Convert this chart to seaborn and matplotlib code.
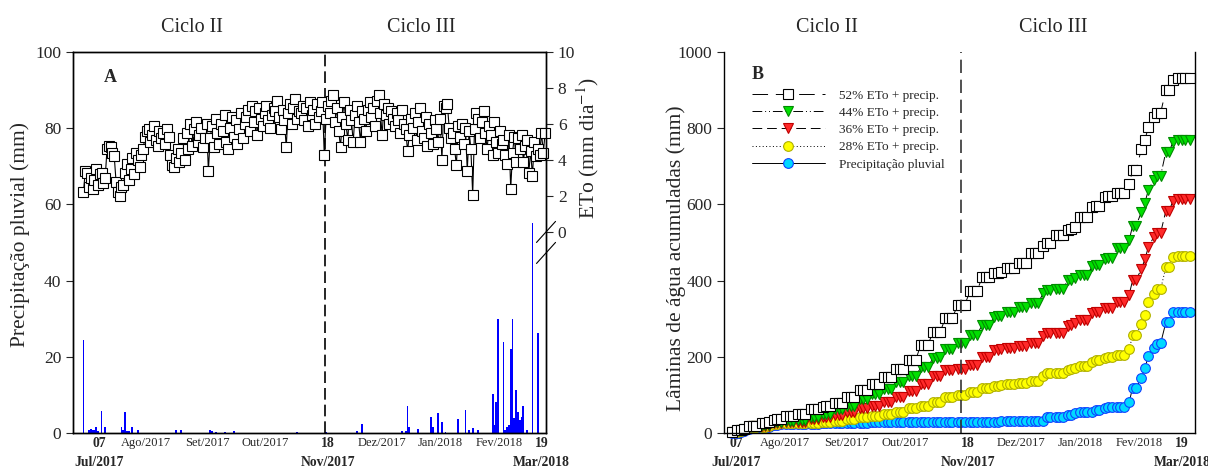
import numpy as np
import pandas as pd
import matplotlib
matplotlib.use("Agg")
import matplotlib.pyplot as plt
import seaborn as sns

sns.set_style("ticks")
plt.rcParams["font.family"] = ["Liberation Serif", "DejaVu Serif"]
plt.rcParams["mathtext.fontset"] = "stix"

# ---- Painel A : ETo diaria (mm dia-1), dia 0 = 07/07/2017 ----
eto = [
    2.2, 3.4, 3.3, 2.5, 3.0, 2.4, 2.9, 3.5, 2.6, 3.2, 3.3, 2.7, 3.0, 4.6, 4.8, 4.7,
    4.4, 4.2, 2.8, 2.2, 2.0, 2.5, 2.6, 3.3, 3.8, 2.9, 3.5, 4.1, 3.2, 4.4,
    4.0, 3.6, 4.3, 4.6, 5.3, 5.6, 5.7, 5.0, 5.4, 5.9, 5.1, 4.8, 5.6, 5.2, 5.5, 4.9,
    5.7, 5.3, 4.3, 3.7, 3.6, 4.1, 4.6, 3.9, 4.4, 5.2, 4.0, 5.5, 4.6, 6.0, 4.8,
    5.7, 6.1, 5.0, 5.4, 5.8, 4.7, 5.2, 6.0, 3.4, 5.2, 5.9, 4.7, 6.3, 5.5, 4.9, 6.0,
    5.6, 6.5, 5.0, 4.6, 5.8, 6.4, 5.3, 6.2, 4.9, 5.7, 6.6, 5.2, 6.0,
    6.4, 6.8, 5.6, 7.0, 6.1, 6.7, 5.4, 6.9, 6.3, 5.9, 6.6, 7.0, 6.2, 5.8, 6.5, 6.9,
    6.7, 7.3, 6.4, 5.7, 6.8, 6.2, 4.7, 6.6, 7.1, 6.0, 6.9, 7.4, 6.3, 6.7,
    6.6, 7.0, 6.2, 6.9, 5.9, 7.2, 6.5, 6.8, 6.0, 7.1, 6.4, 6.7, 7.2, 4.3, 6.3, 7.0,
    6.6, 7.3, 7.6, 6.1, 6.9, 5.6, 4.7, 6.4, 7.2, 6.0, 5.1, 6.8, 6.2,
    5.0, 6.5, 7.0, 6.1, 5.0, 6.7, 6.3, 5.6, 6.8, 7.2, 6.4, 6.9, 5.9, 7.3, 7.6, 6.6,
    5.4, 7.1, 6.5, 6.9, 6.0, 6.7, 6.3, 5.9, 6.6, 6.2, 5.5, 6.8, 6.0, 5.7, 4.5,
    5.4, 6.3, 5.8, 6.6, 5.1, 6.1, 6.9, 5.6, 5.2, 6.4, 4.8, 6.0, 5.5, 4.9, 6.2, 5.7,
    5.0, 6.3, 4.0, 7.0, 6.9, 7.1, 5.8, 5.2, 5.5, 4.6, 3.7, 5.9, 5.3, 6.0,
    4.9, 5.8, 3.4, 5.6, 4.6, 2.05, 5.7, 6.6, 6.3, 5.2, 6.1, 6.7, 5.5, 4.6, 5.9, 5.4,
    4.3, 6.1, 5.0, 4.4, 5.6, 4.9, 5.1, 4.3, 3.8, 5.4, 2.4,
    4.4, 5.3, 3.9, 5.2, 4.6, 5.4, 3.9, 4.8, 5.1, 3.3, 4.5, 3.1, 5.0, 4.2, 4.6, 4.3,
    5.5, 4.4, 5.5,
]

# precipitacao pluvial diaria (dia, mm)
chuva_dia = [0, 3, 4, 5, 6, 7, 8, 10, 12, 21, 22, 23, 24, 25, 27, 30, 51, 54,
             70, 71, 73, 78, 83, 118, 134, 151, 154, 176, 178, 179, 180, 185,
             192, 193, 196, 198, 200, 207, 211, 213, 215, 218, 226, 227, 228, 229,
             232, 233, 234, 235, 236, 237, 238, 239, 240, 241, 242, 243, 245, 248, 251]
chuva_mm = [24.3, 0.8, 1.0, 0.8, 0.8, 1.6, 0.5, 5.9, 1.7, 1.5, 0.8, 5.4, 0.4, 0.4,
            1.5, 0.9, 0.9, 0.9, 0.9, 0.4, 0.2, 0.3, 0.4, 0.15, 0.3, 0.5, 2.3, 0.4,
            0.6, 7.0, 1.6, 1.0, 4.3, 1.5, 5.2, 3.0, 0.3, 3.8, 6.1, 0.7, 1.4, 0.7,
            10.2, 2.2, 8.0, 29.8, 23.9, 0.8, 1.6, 2.0, 22.0, 29.8, 4.0, 11.3, 5.6,
            3.3, 4.3, 7.0, 0.9, 55.0, 26.3]

# ---- Painel B : irrigacao acumulada (mm), 1o valor no dia 0, depois 1 por semana ----
irr_52 = [3, 6, 6, 14, 14, 21, 26, 38, 44, 54, 69, 86, 100, 120, 140, 164, 204, 237,
          274, 308, 343, 381, 391, 401, 414, 441, 459, 478, 487, 512, 536, 553, 561,
          572, 600, 605, 610, 614, 614]
irr_44 = [3, 5, 5, 7, 7, 8, 10, 19, 25, 36, 44, 61, 74, 87, 105, 122, 144, 170, 192,
          207, 229, 255, 277, 287, 300, 311, 335, 336, 355, 359, 382, 391, 416, 425,
          435, 440, 448, 453, 453]
irr_36 = [3, 4, 4, 4, 4, 4, 5, 12, 17, 21, 28, 37, 44, 53, 67, 82, 100, 122, 137, 140,
          150, 171, 190, 192, 197, 205, 221, 221, 235, 241, 258, 260, 276, 282, 286,
          290, 293, 296, 296]
irr_28 = [3, 3, 3, 3, 3, 3, 3, 3, 4, 6, 10, 15, 17, 22, 27, 37, 44, 54, 67, 72, 80, 89,
          95, 98, 101, 104, 116, 116, 119, 119, 131, 131, 136, 138, 140, 142, 145, 147, 147]

rotulos = ["07", "Ago/2017", "Set/2017", "Out/2017", "18",
           "Dez/2017", "Jan/2018", "Fev/2018", "19"]
rotulos_2 = ["Jul/2017", "", "", "", "Nov/2017", "", "", "", "Mar/2018"]
pos_a = [8.6, 34.3, 68.6, 100.6, 134.9, 164.9, 197.3, 229.5, 253.0]
pos_b = [2.3, 30.3, 65.7, 98.9, 134.9, 165.1, 198.9, 232.6, 257.1]

# ------------------------------------------------------------------
dias_a = np.arange(len(eto))

diario = np.zeros(263)
diario[chuva_dia] = chuva_mm
acum = np.cumsum(diario)
acum = acum - acum[0]  # chuva do dia 0 fica fora do acumulado

# leituras seg/qua/sex a partir de 07/07 (sexta)
dias_b, semana = [0], [0]
for k in range(38):
    for j in (0, 2, 4):
        d = 3 + 7 * k + j
        if d <= 262:
            dias_b.append(d)
            semana.append(k + 1)
dias_b = np.array(dias_b)
semana = np.array(semana)

df_b = pd.DataFrame({
    "dia": dias_b,
    "precip": acum[dias_b],
    "t28": acum[dias_b] + np.array(irr_28)[semana],
    "t36": acum[dias_b] + np.array(irr_36)[semana],
    "t44": acum[dias_b] + np.array(irr_44)[semana],
    "t52": acum[dias_b] + np.array(irr_52)[semana],
})

fig = plt.figure(figsize=(12.08, 4.69), dpi=100)
axa = fig.add_axes([0.0604, 0.0768, 0.3916, 0.8124])
axb = fig.add_axes([0.5993, 0.0768, 0.3899, 0.8124])


def eixo_x(ax, pos):
    ax.set_xticks(pos)
    ax.set_xticklabels(rotulos)
    for t, txt2 in zip(ax.get_xticklabels(), rotulos_2):
        if txt2:
            t.set_fontweight("bold")
            t.set_fontsize(9.8)
        else:
            t.set_fontsize(9)
    for p, txt2 in zip(pos, rotulos_2):
        if txt2:
            ax.text(p, -0.077, txt2, transform=ax.get_xaxis_transform(),
                    ha="center", va="center", fontsize=9.8, fontweight="bold")
    ax.tick_params(axis="x", length=0, pad=3)
    ax.set_xlabel("")


# ---------------- Painel A ----------------
axa.bar(chuva_dia, chuva_mm, width=1.0, color="#0000ff", linewidth=0)
axa.set_ylim(0, 100)
axa.set_yticks(range(0, 101, 20))
axa.set_xlim(-5.8, 255.5)
axa.axvline(133.4, color="black", lw=1.2, ls=(0, (7, 3)))
axa.set_ylabel("Precipitação pluvial (mm)", fontsize=15.5)
axa.yaxis.set_label_coords(-0.091, 0.52)
eixo_x(axa, pos_a)

ax2 = axa.twinx()
sns.lineplot(x=dias_a, y=eto, ax=ax2, color="black", lw=0.8, marker="s",
             markersize=6.5, markerfacecolor="white", markeredgecolor="black",
             markeredgewidth=0.8, clip_on=False)
lo, hi = -11.17, 10
ax2.set_ylim(lo, hi)
ax2.set_yticks(range(0, 11, 2))
ax2.set_ylabel("ETo (mm dia$^{-1}$)", fontsize=15.5)
ax2.yaxis.set_label_coords(1.06, 0.749)

# quebra do eixo direito
y0 = (0 - lo) / (hi - lo)
for yc in (y0, y0 - 21 / 381):
    ax2.plot([1 - 0.0201, 1 + 0.0201], [yc - 0.0276, yc + 0.0276],
             transform=ax2.transAxes, color="black", lw=0.8, clip_on=False)

for ax in (axa, ax2):
    ax.tick_params(axis="y", labelsize=12.5, length=5, width=0.8, direction="out")
    for s in ax.spines.values():
        s.set_linewidth(1.0)
        s.set_color("black")

axa.text(60, 1.063, "Ciclo II", transform=axa.get_xaxis_transform(),
         ha="center", va="center", fontsize=14.5)
axa.text(186.5, 1.063, "Ciclo III", transform=axa.get_xaxis_transform(),
         ha="center", va="center", fontsize=14.5)
axa.text(14.6, 0.932, "A", transform=axa.get_xaxis_transform(),
         ha="center", va="center", fontsize=13, fontweight="bold")

# ---------------- Painel B ----------------
estilos = [
    ("precip", "Precipitação pluvial", "-", "o", "#00d8ff", "#1040ff", 7),
    ("t28", "28% ETo + precip.", (0, (1, 2.5)), "o", "#ffff00", "#b0b000", 7),
    ("t36", "36% ETo + precip.", (0, (10, 5)), "v", "#ff2a2a", "#c00000", 7.5),
    ("t44", "44% ETo + precip.", (0, (10, 3, 1, 3, 1, 3)), "v", "#00e000", "#008a00", 7.5),
    ("t52", "52% ETo + precip.", (0, (16, 8)), "s", "white", "black", 6.8),
]
for col, nome, ls, mk, fc, ec, ms in estilos:
    sns.lineplot(data=df_b, x="dia", y=col, ax=axb, color="black", lw=0.7,
                 linestyle=ls, marker=mk, markersize=ms, markerfacecolor=fc,
                 markeredgecolor=ec, markeredgewidth=0.8, clip_on=False, label=nome)

axb.set_ylim(0, 1000)
axb.set_yticks(range(0, 1001, 200))
axb.set_xlim(-4.57, 264.6)
axb.axvline(130.9, color="#333333", lw=1.2, ls=(0, (8, 4)))
axb.set_ylabel("Lâminas de água acumuladas (mm)", fontsize=15.5)
axb.yaxis.set_label_coords(-0.08, 0.46)
eixo_x(axb, pos_b)
axb.tick_params(axis="y", labelsize=12.5, length=5, width=0.8, direction="out")
axb.spines["top"].set_visible(False)
for s in ("left", "right", "bottom"):
    axb.spines[s].set_linewidth(1.0)
    axb.spines[s].set_color("black")

h, l = axb.get_legend_handles_labels()
ordem = [4, 3, 2, 1, 0]
axb.legend([h[i] for i in ordem], [l[i] for i in ordem], loc="upper left",
           bbox_to_anchor=(0.0594, 0.902), frameon=False, fontsize=9.5,
           handlelength=5.5, handletextpad=1.1, labelspacing=0.38,
           borderpad=0, borderaxespad=0)

axb.text(54.3, 1.063, "Ciclo II", transform=axb.get_xaxis_transform(),
         ha="center", va="center", fontsize=14.5)
axb.text(183.4, 1.063, "Ciclo III", transform=axb.get_xaxis_transform(),
         ha="center", va="center", fontsize=14.5)
axb.text(14.9, 0.94, "B", transform=axb.get_xaxis_transform(),
         ha="center", va="center", fontsize=13, fontweight="bold")

fig.savefig("out.png", dpi=100)
